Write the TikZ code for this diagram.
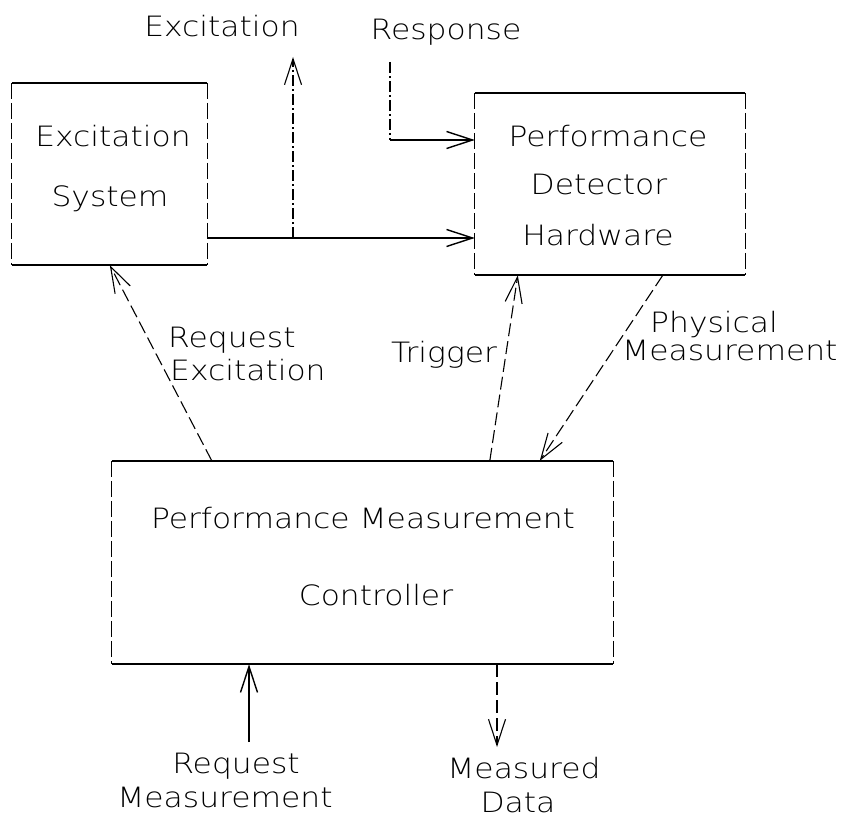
\documentclass[tikz,border=0pt]{standalone}
\usepackage{fontspec}
\setmainfont{DejaVu Sans ExtraLight}[FakeStretch=1.12]
\usetikzlibrary{arrows.meta,calc}

\begin{document}
\begin{tikzpicture}[x=1pt,y=-1pt,
  txt/.style={font=\fontsize{28}{30}\selectfont, inner sep=0pt, anchor=base},
  lbl/.style={txt, anchor=base west},
  box/.style={rectangle, draw=none, inner sep=0pt},
  solidedge/.style={line width=1.5pt},
  sideedge/.style={line width=1.2pt, dash pattern=on 16pt off 4pt},
  flow/.style={line width=1.4pt, -{Straight Barb[length=26pt,width=17pt]}},
  dashflow/.style={flow, line width=1.1pt, dash pattern=on 13pt off 5pt},
  dotline/.style={line width=1.1pt, dash pattern=on 11pt off 3pt on 2pt off 3pt},
  dotflow/.style={flow, dotline},
]
\useasboundingbox (0,0) rectangle (842,818);

% the three blocks
\node[box, minimum width=195pt, minimum height=182pt] (exc) at (109.5,174) {};
\node[box, minimum width=270pt, minimum height=182pt] (det) at (610,184) {};
\node[box, minimum width=501pt, minimum height=203pt] (ctl) at (362.5,562.5) {};

\foreach \b in {exc,det,ctl}{
  \draw[solidedge] (\b.north west) -- (\b.north east);
  \draw[solidedge] (\b.south west) -- (\b.south east);
  \draw[sideedge] (\b.north west) -- (\b.south west);
  \draw[sideedge] (\b.north east) -- (\b.south east);
}

% block texts
\node[txt] (excA) at (113,147) {Excitation};
\node[txt] (excB) at (110,207) {System};
\node[txt] (detA) at (608,147) {Performance};
\node[txt] (detB) at (599,195) {Detector};
\node[txt] (detC) at (598,245) {Hardware};
\node[txt] (ctlA) at (363,528) {Performance Measurement};
\node[txt] (ctlB) at (376,605) {Controller};

% excitation output and its branch upward
\coordinate (j) at (293,238);
\coordinate (excup) at (293,57);
\draw[flow] (exc.east |- j) -- (det.west |- j);
\draw[dotflow] (j) -- (excup);
\node[txt] (excL) at (222,37) {Excitation};

% response input
\coordinate (resp0) at (390,62);
\coordinate (resp1) at (390,140);
\draw[dotline] (resp0) -- (resp1);
\draw[flow] (resp1) -- (det.west |- resp1);
\node[txt] (respL) at (446,40) {Response};

% links between the controller and the two upper blocks
\draw[dashflow] ($(ctl.north west)+(100,0)$) -- ($(exc.south west)+(98,0)$);
\node[lbl] (reqA) at (168,347) {Request};
\node[lbl] (reqB) at (170,380) {Excitation};

\draw[dashflow] ($(ctl.north west)+(378,0)$) -- ($(det.south west)+(43,0)$);
\node[txt] (trigL) at (444,362) {Trigger};

\draw[dashflow] ($(det.south west)+(188,0)$) -- ($(ctl.north west)+(428,0)$);
\node[lbl] (physA) at (650,332) {Physical};
\node[lbl] (physB) at (622,360) {Measurement};

% controller input and output
\coordinate (rm) at (249,742);
\draw[flow] (rm) -- (rm |- ctl.south);
\node[txt] (rmA) at (236,773) {Request};
\node[txt] (rmB) at (225,807) {Measurement};

\coordinate (md) at (497,747);
\draw[dashflow] (md |- ctl.south) -- (md);
\node[txt] (mdA) at (524,778) {Measured};
\node[txt] (mdB) at (518,812) {Data};
\end{tikzpicture}
\end{document}
